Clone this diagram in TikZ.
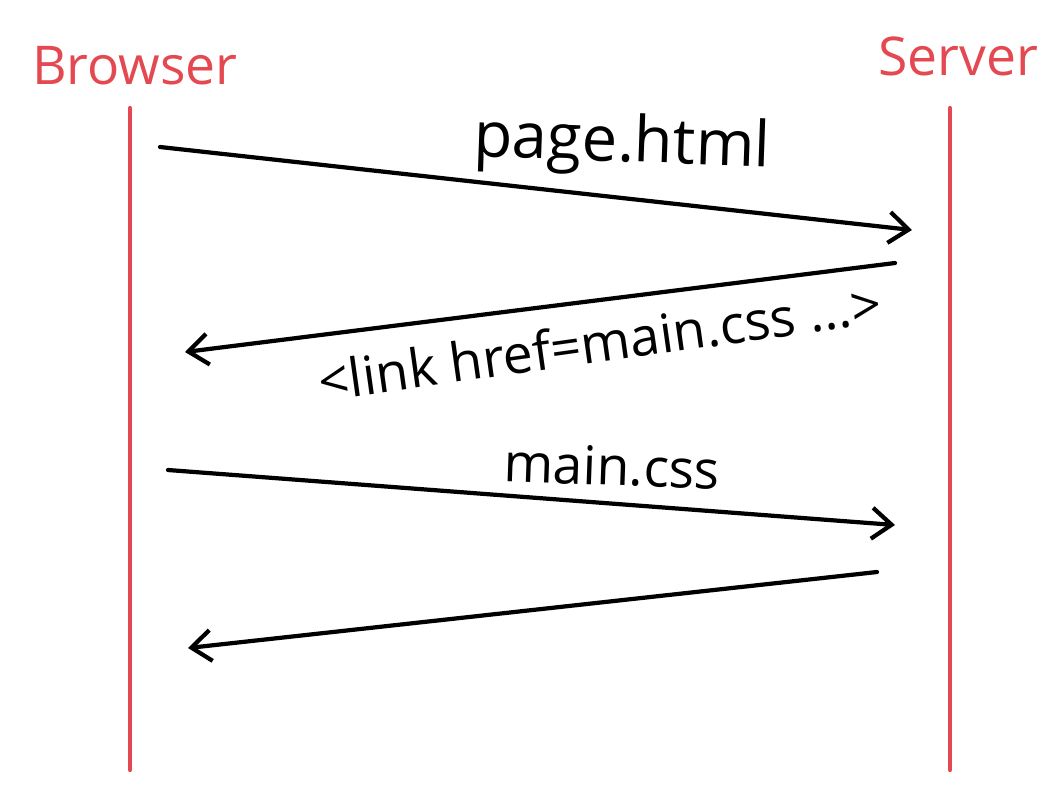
\documentclass[tikz,border=0pt]{standalone}
\usepackage{fontspec}
\setmainfont{Open Sans}
\usetikzlibrary{arrows.meta}
\definecolor{lifered}{RGB}{228,72,80}

\begin{document}
\begin{tikzpicture}[x=0.025cm,y=-0.025cm,
    actor/.style={text=lifered,font=\fontsize{38}{42}\selectfont},
    lifeline/.style={draw=lifered,line width=3pt,line cap=round},
    msg/.style={draw=black,line width=3pt,line cap=round,
      -{Straight Barb[length=14pt,width=22pt,line width=3pt]}},
    msglabel/.style={text=black}]
    \useasboundingbox (0,0) rectangle (1046,804);

    % Define the ends of the lifelines
    \coordinate (B0) at (130,108);
    \coordinate (B1) at (130,770);
    \coordinate (S0) at (950,108);
    \coordinate (S1) at (950,770);

    % Actors
    \node[actor] (browser) at (135,66) {Browser};
    \node[actor] (server) at (958,56) {Server};

    % Draw lifelines
    \draw[lifeline] (B0) -- (B1);
    \draw[lifeline] (S0) -- (S1);

    % Ends of the messages
    \coordinate (M1a) at (160,147);
    \coordinate (M1b) at (912,230);
    \coordinate (M2a) at (895,263);
    \coordinate (M2b) at (185,352);
    \coordinate (M3a) at (168,470);
    \coordinate (M3b) at (895,525);
    \coordinate (M4a) at (877,572);
    \coordinate (M4b) at (188,648);

    % Draw messages
    \draw[msg] (M1a) -- (M1b);
    \draw[msg] (M2a) -- (M2b);
    \draw[msg] (M3a) -- (M3b);
    \draw[msg] (M4a) -- (M4b);

    % Labels of the messages
    \node[msglabel,font=\fontsize{45}{50}\selectfont,rotate=-2] (pagehtml) at (622,145) {page.html};
    \node[msglabel,font=\fontsize{38}{42}\selectfont,rotate=8] (linkcss) at (600,342) {<link href=main.css ...>};
    \node[msglabel,font=\fontsize{38}{42}\selectfont,rotate=-2] (maincss) at (612,466) {main.css};
\end{tikzpicture}
\end{document}
